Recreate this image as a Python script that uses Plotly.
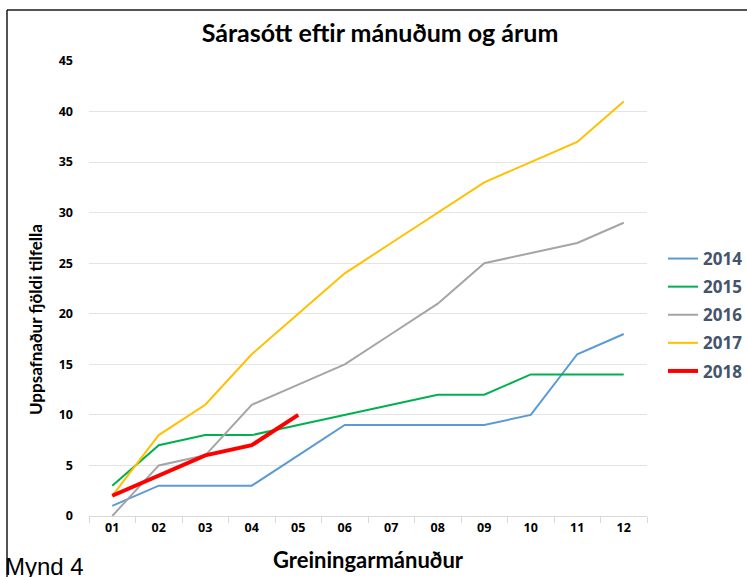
import plotly.graph_objects as go

months = ["01", "02", "03", "04", "05", "06", "07", "08", "09", "10", "11", "12"]
y2014 = [1, 3, 3, 3, 6, 9, 9, 9, 9, 10, 16, 18]
y2015 = [3, 7, 8, 8, 9, 10, 11, 12, 12, 14, 14, 14]
y2016 = [0, 5, 6, 11, 13, 15, 18, 21, 25, 26, 27, 29]
y2017 = [2, 8, 11, 16, 20, 24, 27, 30, 33, 35, 37, 41]
y2018 = [2, 4, 6, 7, 10]
series = [("2014", y2014, "#5b9bd5", 2), ("2015", y2015, "#00b050", 2),
          ("2016", y2016, "#a5a5a5", 2), ("2017", y2017, "#ffc000", 2),
          ("2018", y2018, "#ff0000", 4)]

W, H = 747, 577
L, R, T, B = 89, 100, 61, 61
pw, ph = W - L - R, H - T - B

def px(x):
    return (x - L) / pw

def py(y):
    return (H - B - y) / ph

fig = go.Figure()
for name, vals, col, w in series:
    fig.add_trace(go.Scatter(x=months[:len(vals)], y=vals, mode="lines",
                             name="<b>" + name + "</b>", legendgroup=name,
                             line=dict(color=col, width=w)))

fig.update_layout(
    width=W, height=H,
    margin=dict(l=L, r=R, t=T, b=B, autoexpand=False),
    plot_bgcolor="white", paper_bgcolor="white",
    font=dict(family="Lato, Open Sans, sans-serif", color="#000"),
    title=dict(text="<b>Sárasótt eftir mánuðum og árum</b>", x=380 / W, xanchor="center",
               y=1 - 33 / H, yanchor="middle", font=dict(size=25, color="#000")),
    xaxis=dict(type="category", tickson="boundaries", ticks="outside", ticklen=6,
               tickcolor="#d9d9d9", showgrid=False, showline=True, linecolor="#d9d9d9",
               linewidth=1, tickfont=dict(size=12.5, color="#000", family="Open Sans"),
               tickprefix="<b>", ticksuffix="</b>", range=[-0.5, 11.5]),
    yaxis=dict(range=[0, 45], dtick=5, showgrid=True, gridcolor="#e4e4e4", gridwidth=1,
               zeroline=False, showline=False, ticks="", ticklabelstandoff=15,
               tickfont=dict(size=12.5, color="#000", family="Open Sans"),
               tickprefix="<b>", ticksuffix="</b>"),
    legend=dict(x=px(663), xanchor="left", y=py(241), yanchor="top",
                font=dict(size=17, color="#44546a", family="Open Sans"),
                tracegroupgap=3, bgcolor="rgba(0,0,0,0)"),
    showlegend=True,
)

fig.add_annotation(text="<b>Uppsafnaður fjöldi tilfella</b>", textangle=-90,
                   x=px(35), y=py(320), xref="paper", yref="paper", showarrow=False,
                   xanchor="center", yanchor="middle", font=dict(size=17, color="#000"))
fig.add_annotation(text="<b>Greiningarmánuður</b>", x=px(368), y=py(559), xref="paper",
                   yref="paper", showarrow=False, xanchor="center", yanchor="middle",
                   font=dict(size=22, color="#000"))
fig.add_annotation(text="Mynd 4", x=px(3), y=py(566), xref="paper", yref="paper",
                   showarrow=False, xanchor="left", yanchor="middle",
                   font=dict(size=24, color="#000", family="Liberation Sans"))

# border
fig.add_shape(type="line", xref="paper", yref="paper", x0=px(7), x1=px(7), y0=py(10), y1=py(580),
              line=dict(color="#1a1a1a", width=1.5))
fig.add_shape(type="line", xref="paper", yref="paper", x0=px(7), x1=px(750), y0=py(10), y1=py(10),
              line=dict(color="#1a1a1a", width=1.5))

fig.write_html("out.html", config={"displayModeBar": False},
               post_script="document.body.style.margin='0';")
